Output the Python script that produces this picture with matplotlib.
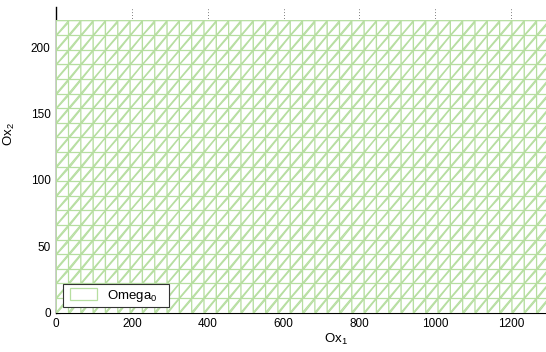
import numpy as np
import matplotlib
matplotlib.use("Agg")
import matplotlib.pyplot as plt
from matplotlib.collections import PolyCollection
from matplotlib.patches import Rectangle
from matplotlib.legend_handler import HandlerPatch

plt.rcParams['font.family'] = ['Liberation Sans', 'DejaVu Sans']
plt.rcParams['mathtext.fontset'] = 'custom'
plt.rcParams['mathtext.rm'] = 'Liberation Sans'
plt.rcParams['mathtext.it'] = 'Liberation Sans'

# Domain Omega_0 and its triangulation
x_extent = [0, 1300]
y_extent = [0, 220]
nx_cells = 40
ny_cells = 20

x_ticks = [0, 200, 400, 600, 800, 1000, 1200]
y_ticks = [0, 50, 100, 150, 200]
x_label = "Ox$_1$"
y_label = "Ox$_2$"
legend_label = "Omega$_0$"

mesh_color = '#b6dea0'

xs = np.linspace(x_extent[0], x_extent[1], nx_cells + 1)
ys = np.linspace(y_extent[0], y_extent[1], ny_cells + 1)
tris = []
for i in range(nx_cells):
    for j in range(ny_cells):
        p00 = (xs[i], ys[j]); p10 = (xs[i + 1], ys[j])
        p11 = (xs[i + 1], ys[j + 1]); p01 = (xs[i], ys[j + 1])
        tris.append([p00, p10, p11])
        tris.append([p00, p11, p01])

W, H = 546, 352
fig = plt.figure(figsize=(W / 100, H / 100), dpi=100)
x0_px, x1_px = 56.2, 56.2 + 492.7
y_bot_px, y_top_px = 312.5, 7.4
ax = fig.add_axes([x0_px / W, (H - y_bot_px) / H, (x1_px - x0_px) / W, (y_bot_px - y_top_px) / H])

pc = PolyCollection(tris, facecolor='white', edgecolor=mesh_color, linewidth=0.9,
                    zorder=3, label=legend_label)
ax.add_collection(pc)

ax.set_xlim(0, 1300)
ax.set_ylim(0, 230)
ax.set_xticks(x_ticks)
ax.set_yticks(y_ticks)
ax.tick_params(direction='in', length=3, labelsize=8.5, pad=4, colors='black')
ax.set_axisbelow(True)
ax.grid(True, axis='x', linestyle=(0, (1, 2.5)), color='#555555', linewidth=0.6)
for s in ['top', 'right']:
    ax.spines[s].set_visible(False)
ax.spines['left'].set_linewidth(1.0)

ax.set_xlabel(x_label, fontsize=9.5)
ax.set_ylabel(y_label, fontsize=9.5)
ax.xaxis.set_label_coords((336 - x0_px) / (x1_px - x0_px), -(340 - y_bot_px) / (y_bot_px - y_top_px) + 0.025)
ax.yaxis.set_label_coords((17 - x0_px) / (x1_px - x0_px), (y_bot_px - 134) / (y_bot_px - y_top_px))

# legend handle: outlined rectangle with some left inset, as in the reference
def inset_rect(legend, orig_handle, xdescent, ydescent, width, height, fontsize):
    inset = 0.3 * fontsize
    return Rectangle((-xdescent + inset, -ydescent), width - inset, height)

proxy = Rectangle((0, 0), 1, 1, facecolor='white', edgecolor=mesh_color, linewidth=0.9)
leg = ax.legend(handles=[proxy], labels=[legend_label + "\u2007\u2007"],
                handler_map={Rectangle: HandlerPatch(patch_func=inset_rect)},
                loc='lower left', bbox_to_anchor=((63 - x0_px) / (x1_px - x0_px), (y_bot_px - 307) / (y_bot_px - y_top_px)),
                borderaxespad=0, fancybox=False, framealpha=1, edgecolor='#333333',
                fontsize=9.5, handlelength=2.35, handleheight=1.0, handletextpad=0.75,
                borderpad=0.25)
leg.get_frame().set_linewidth(0.8)
leg.set_zorder(5)

fig.savefig('out.png', dpi=100)
